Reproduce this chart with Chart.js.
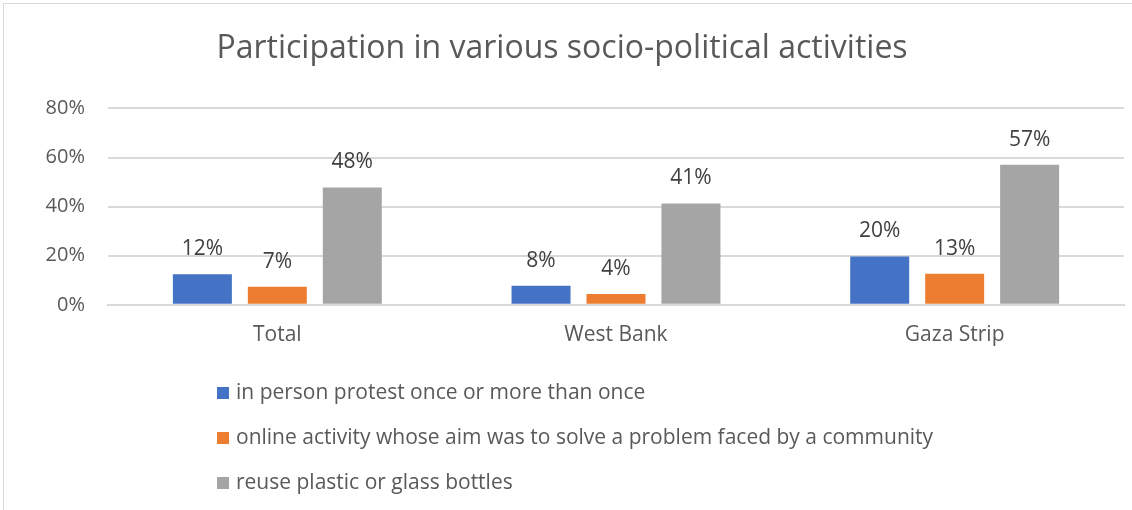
<!DOCTYPE html>
<html>
<head>
<meta charset="utf-8">
<script src="https://cdn.jsdelivr.net/npm/chart.js@4/dist/chart.umd.min.js"></script>
<style>
  html, body { margin: 0; padding: 0; background: #ffffff; }
  #wrap { position: relative; width: 1132px; height: 510px; overflow: hidden; }
  #frame { position: absolute; left: 3px; top: 3px; width: 1140px; height: 520px;
           border-left: 1px solid #D9D9D9; border-top: 1px solid #D9D9D9; box-sizing: border-box; }
  #c { position: absolute; left: 0; top: 0; }
  #legend { position: absolute; left: 217px; top: 375px; font-family: "Open Sans", sans-serif;
            font-size: 21px; color: #595959; }
  .item { height: 45px; line-height: 32px; white-space: nowrap; }
  .sw { display: inline-block; width: 12px; height: 12px; margin-right: 7px; vertical-align: 0px; }
</style>
</head>
<body>
<div id="wrap">
  <div id="frame"></div>
  <canvas id="c" width="1132" height="510"></canvas>
  <div id="legend"></div>
</div>
<script>
const titleText = "Participation in various socio-political activities";
const categories = ["Total", "West Bank", "Gaza Strip"];
const seriesNames = [
  "in person protest once or more than once",
  "online activity whose aim was to solve a problem faced by a community",
  "reuse plastic or glass bottles"
];
const protestValues = [12.4, 7.8, 19.7];
const onlineValues = [7.4, 4.4, 12.6];
const bottleValues = [47.8, 41.3, 57.0];
const yTicks = [0, 20, 40, 60, 80];
const seriesColors = ["#4472C4", "#ED7D31", "#A5A5A5"];

const FONT = "'Open Sans', sans-serif";
const TXT = "#595959";

const valueLabels = {
  id: "valueLabels",
  afterDatasetsDraw(chart) {
    const ctx = chart.ctx;
    ctx.save();
    ctx.font = "21px " + FONT;
    ctx.fillStyle = "#404040";
    ctx.textAlign = "center";
    ctx.textBaseline = "middle";
    chart.data.datasets.forEach((ds, i) => {
      const meta = chart.getDatasetMeta(i);
      meta.data.forEach((el, j) => {
        ctx.fillText(Math.round(ds.data[j]) + "%", el.x, el.y - 25);
      });
    });
    ctx.restore();
  }
};

const valueArrays = [protestValues, onlineValues, bottleValues];
const chart = new Chart(document.getElementById("c"), {
  type: "bar",
  data: {
    labels: categories,
    datasets: seriesNames.map((name, i) => ({
      label: name,
      data: valueArrays[i],
      backgroundColor: seriesColors[i],
      borderWidth: 0,
      categoryPercentage: 0.664,
      barPercentage: 0.787
    }))
  },
  options: {
    responsive: false,
    animation: false,
    layout: { padding: { left: 0, right: 8, top: 0, bottom: 144 } },
    plugins: {
      legend: { display: false },
      tooltip: { enabled: false },
      title: {
        display: true,
        text: titleText,
        color: TXT,
        font: { family: FONT, size: 32, weight: "normal" },
        padding: { top: 30, bottom: 40 }
      }
    },
    scales: {
      x: {
        grid: { display: false, drawTicks: false },
        border: { display: true, color: "#D9D9D9", width: 2 },
        ticks: { color: TXT, font: { family: FONT, size: 21 }, padding: 18 }
      },
      y: {
        min: 0, max: 80,
        afterBuildTicks(scale) { scale.ticks = yTicks.map(v => ({ value: v })); },
        afterFit(scale) { scale.width = 108; },
        grid: { color: "#D9D9D9", lineWidth: 2, drawTicks: false },
        border: { display: false },
        ticks: {
          color: TXT, font: { family: FONT, size: 20 }, padding: 23,
          callback: v => v + "%"
        }
      }
    }
  },
  plugins: [valueLabels]
});

const leg = document.getElementById("legend");
seriesNames.forEach((name, i) => {
  const d = document.createElement("div");
  d.className = "item";
  const s = document.createElement("span");
  s.className = "sw";
  s.style.background = seriesColors[i];
  d.appendChild(s);
  d.appendChild(document.createTextNode(name));
  leg.appendChild(d);
});
</script>
</body>
</html>
